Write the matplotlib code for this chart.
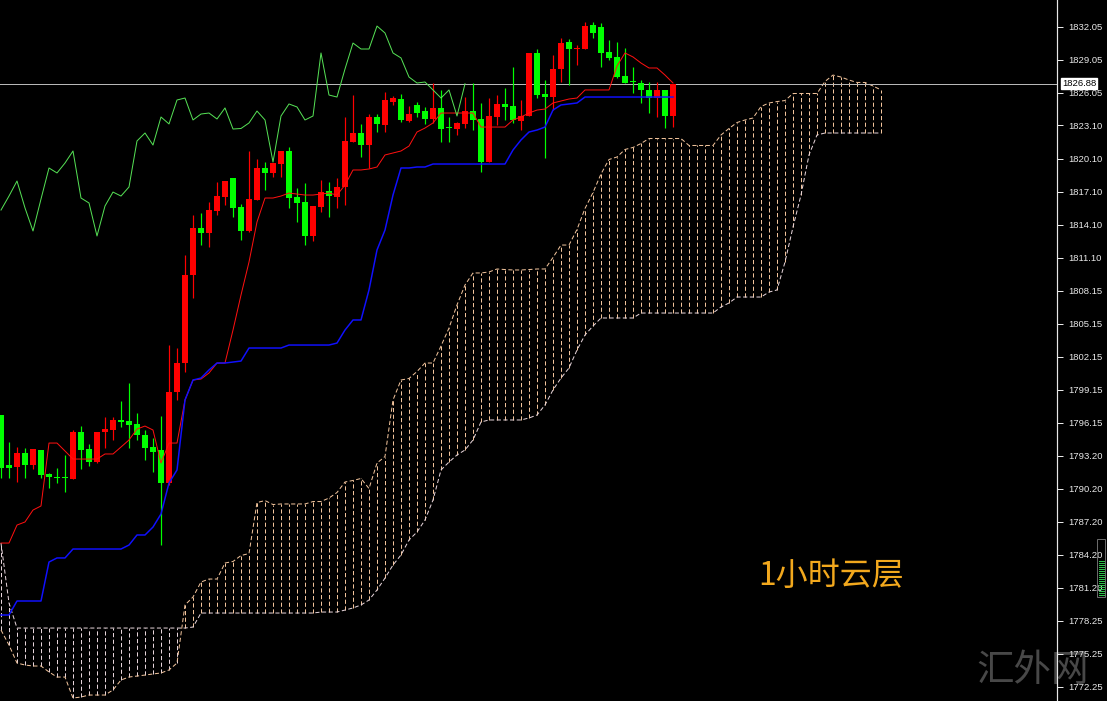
import numpy as np
import matplotlib
matplotlib.use('Agg')
import matplotlib.pyplot as plt
from matplotlib.patches import Rectangle
from matplotlib.lines import Line2D
import matplotlib.transforms as mtrans

plt.rcParams['lines.scale_dashes'] = False

# ---------------- data ----------------
opens = [1796.87, 1792.34, 1792.16, 1793.43, 1792.34, 1793.70, 1791.53, 1791.25, 1791.25, 1791.07,
         1795.33, 1793.79, 1792.61, 1795.33, 1795.51, 1796.42, 1796.33, 1796.06, 1795.06, 1793.97,
         1793.70, 1790.71, 1798.95, 1801.58, 1809.55, 1813.81, 1813.36, 1815.35, 1816.62, 1818.34,
         1815.72, 1813.54, 1816.35, 1819.25, 1818.80, 1819.61, 1820.79, 1816.62, 1816.17, 1813.09,
         1815.72, 1817.17, 1816.62, 1817.53, 1821.60, 1822.42, 1821.33, 1823.87, 1823.14, 1825.23,
         1825.50, 1823.51, 1824.96, 1824.41, 1823.69, 1824.69, 1822.87, 1822.78, 1823.24, 1824.41,
         1823.69, 1819.79, 1823.87, 1825.05, 1824.87, 1823.51, 1823.96, 1829.67, 1825.95, 1825.68,
         1828.22, 1830.66, 1829.99, 1830.03, 1832.20, 1832.02, 1829.76, 1829.31, 1827.58, 1827.09,
         1826.95, 1826.32, 1825.59, 1826.32, 1823.96]
highs = [1796.87, 1794.42, 1793.97, 1793.88, 1793.79, 1793.70, 1791.62, 1792.07, 1793.25, 1795.51,
         1795.87, 1794.24, 1795.33, 1796.69, 1796.69, 1798.14, 1799.77, 1797.05, 1795.51, 1794.79,
         1796.78, 1803.21, 1802.94, 1811.37, 1814.99, 1815.17, 1816.17, 1817.98, 1818.07, 1818.34,
         1815.99, 1820.79, 1820.06, 1819.79, 1819.70, 1820.79, 1821.15, 1817.44, 1817.89, 1815.81,
         1818.16, 1817.98, 1818.34, 1823.87, 1825.86, 1823.24, 1824.14, 1824.14, 1826.13, 1825.77,
         1825.95, 1824.87, 1825.23, 1824.78, 1826.95, 1826.32, 1823.87, 1823.42, 1825.68, 1826.95,
         1825.14, 1825.59, 1825.86, 1826.50, 1828.40, 1825.41, 1829.67, 1830.03, 1827.22, 1829.49,
         1831.03, 1830.94, 1830.39, 1832.48, 1832.48, 1832.39, 1830.85, 1830.66, 1830.12, 1828.40,
         1827.22, 1827.04, 1827.04, 1826.32, 1826.88]
lows = [1791.16, 1791.16, 1790.80, 1791.16, 1791.98, 1791.16, 1790.26, 1790.71, 1789.89, 1791.07,
        1791.98, 1792.25, 1792.52, 1793.88, 1794.61, 1795.78, 1793.88, 1794.61, 1792.79, 1791.71,
        1785.09, 1790.53, 1798.23, 1800.77, 1807.47, 1812.27, 1812.09, 1814.99, 1815.90, 1814.81,
        1812.73, 1813.45, 1816.35, 1817.26, 1818.43, 1818.43, 1815.63, 1814.36, 1812.27, 1812.64,
        1815.26, 1814.81, 1815.63, 1815.90, 1821.60, 1820.25, 1819.25, 1822.51, 1822.51, 1824.96,
        1823.42, 1823.42, 1823.87, 1823.24, 1823.33, 1821.60, 1821.60, 1822.24, 1822.87, 1822.69,
        1818.89, 1819.79, 1823.14, 1823.60, 1823.33, 1822.69, 1823.96, 1825.59, 1820.16, 1824.50,
        1827.04, 1826.77, 1828.58, 1830.03, 1831.03, 1828.40, 1829.03, 1827.40, 1826.95, 1826.04,
        1825.14, 1824.23, 1823.87, 1822.87, 1822.96]
closes = [1792.07, 1792.07, 1793.43, 1792.34, 1793.79, 1791.43, 1791.25, 1791.16, 1791.16, 1795.33,
          1793.70, 1792.61, 1795.33, 1795.60, 1796.42, 1796.24, 1795.96, 1795.06, 1793.88, 1793.52,
          1790.71, 1798.95, 1801.58, 1809.55, 1813.81, 1813.36, 1815.44, 1816.71, 1818.07, 1815.63,
          1813.54, 1816.44, 1819.25, 1818.80, 1819.70, 1820.79, 1816.53, 1816.08, 1813.09, 1815.81,
          1817.07, 1816.71, 1817.53, 1821.70, 1822.42, 1821.33, 1823.87, 1823.24, 1825.41, 1825.59,
          1823.60, 1824.14, 1824.23, 1823.69, 1824.69, 1822.78, 1822.83, 1823.33, 1824.41, 1823.60,
          1819.79, 1823.96, 1825.05, 1824.78, 1823.60, 1823.96, 1829.67, 1825.86, 1825.68, 1828.22,
          1830.57, 1830.03, 1830.03, 1832.11, 1831.48, 1829.67, 1829.22, 1827.49, 1826.95, 1827.04,
          1826.32, 1825.59, 1826.32, 1823.96, 1826.88]

tenkan = [1785.27, 1785.27, 1786.90, 1787.18, 1788.26, 1788.63, 1794.33, 1794.33, 1793.61, 1792.88,
          1792.88, 1792.88, 1792.88, 1793.34, 1793.34, 1793.97, 1794.61, 1795.60, 1795.87, 1795.51,
          1792.52, 1794.33, 1794.33, 1798.23, 1800.04, 1800.13, 1800.68, 1801.58, 1801.58, 1804.57,
          1807.74, 1810.73, 1814.36, 1816.53, 1816.53, 1816.71, 1816.98, 1816.89, 1816.80, 1816.80,
          1816.89, 1816.98, 1816.80, 1817.71, 1819.07, 1819.07, 1819.16, 1819.34, 1820.43, 1820.61,
          1820.79, 1821.24, 1822.51, 1822.87, 1823.33, 1824.23, 1824.23, 1824.23, 1824.23, 1824.23,
          1822.96, 1822.96, 1822.96, 1822.96, 1823.60, 1823.87, 1824.23, 1824.50, 1824.59, 1825.14,
          1825.32, 1825.50, 1825.59, 1826.32, 1826.32, 1826.32, 1826.32, 1828.49, 1829.67, 1829.31,
          1828.76, 1828.31, 1828.31, 1827.67, 1826.95]
kijun = [1778.75, 1778.75, 1780.02, 1780.02, 1780.02, 1780.02, 1783.55, 1783.92, 1783.92, 1784.73,
         1784.73, 1784.73, 1784.73, 1784.73, 1784.73, 1784.73, 1785.09, 1786.00, 1786.00, 1786.72,
         1787.90, 1790.71, 1791.89, 1798.23, 1800.04, 1800.22, 1800.95, 1801.58, 1801.58, 1801.67,
         1801.76, 1802.94, 1802.94, 1802.94, 1802.94, 1802.94, 1803.21, 1803.21, 1803.21, 1803.21,
         1803.21, 1803.21, 1803.39, 1804.57, 1805.48, 1805.48, 1808.20, 1811.82, 1813.63, 1816.80,
         1819.25, 1819.25, 1819.34, 1819.34, 1819.61, 1819.61, 1819.61, 1819.61, 1819.61, 1819.61,
         1819.61, 1819.61, 1819.61, 1819.61, 1820.88, 1821.79, 1822.51, 1822.69, 1822.96, 1824.50,
         1824.96, 1825.05, 1825.14, 1825.68, 1825.68, 1825.68, 1825.68, 1825.68, 1825.68, 1825.68,
         1825.68, 1825.68, 1825.68, 1825.68, 1825.68]

span_a = [1777.39, 1776.03, 1774.40, 1774.22, 1774.13, 1774.13, 1773.59, 1773.13, 1773.13, 1771.23,
          1771.32, 1771.50, 1771.50, 1771.50, 1771.96, 1772.86, 1773.13, 1773.22, 1773.31, 1773.41,
          1773.50, 1773.77, 1774.40, 1779.66, 1780.38, 1781.74, 1782.01, 1782.01, 1783.46, 1783.60,
          1784.14, 1784.32, 1788.94, 1789.12, 1788.76, 1788.81, 1788.81, 1788.81, 1788.81, 1789.03,
          1789.03, 1789.35, 1789.85, 1790.80, 1790.94, 1791.12, 1790.21, 1792.52, 1793.11, 1798.23,
          1800.04, 1800.18, 1800.81, 1801.58, 1801.58, 1803.12, 1804.75, 1806.84, 1808.65, 1809.74,
          1809.74, 1809.83, 1810.10, 1810.05, 1810.01, 1810.01, 1810.05, 1810.10, 1810.10, 1811.14,
          1812.27, 1812.27, 1813.68, 1815.58, 1817.03, 1818.71, 1820.02, 1820.25, 1820.93, 1821.11,
          1821.47, 1821.92, 1821.92, 1821.92, 1821.92, 1821.92, 1821.29, 1821.29, 1821.29, 1821.29,
          1822.24, 1822.83, 1823.37, 1823.60, 1823.78, 1824.82, 1825.14, 1825.27, 1825.36, 1826.00,
          1826.00, 1826.00, 1826.00, 1827.09, 1827.67, 1827.49, 1827.22, 1827.00, 1827.00, 1826.68,
          1826.32]
span_b = [1785.27, 1779.84, 1777.57, 1777.57, 1777.57, 1777.57, 1777.57, 1777.57, 1777.57, 1777.57,
          1777.57, 1777.57, 1777.57, 1777.57, 1777.57, 1777.57, 1777.57, 1777.57, 1777.57, 1777.57,
          1777.57, 1777.57, 1777.57, 1777.57, 1777.66, 1778.93, 1778.93, 1778.93, 1778.93, 1778.93,
          1778.93, 1778.93, 1778.93, 1778.93, 1778.93, 1778.93, 1778.93, 1778.93, 1778.93, 1778.93,
          1779.02, 1779.02, 1779.02, 1779.20, 1779.39, 1779.66, 1780.11, 1781.02, 1782.10, 1783.28,
          1784.19, 1785.55, 1786.27, 1787.36, 1789.17, 1791.89, 1792.61, 1793.25, 1793.70, 1794.61,
          1796.24, 1796.42, 1796.42, 1796.42, 1796.42, 1796.42, 1796.60, 1796.87, 1797.78, 1799.14,
          1800.22, 1801.13, 1802.76, 1804.12, 1804.93, 1805.66, 1805.66, 1805.66, 1805.66, 1805.66,
          1806.11, 1806.11, 1806.11, 1806.11, 1806.11, 1806.11, 1806.11, 1806.11, 1806.11, 1806.11,
          1806.66, 1807.02, 1807.56, 1807.56, 1807.56, 1807.56, 1808.01, 1808.20, 1810.73, 1813.90,
          1816.80, 1820.43, 1822.24, 1822.42, 1822.42, 1822.42, 1822.42, 1822.42, 1822.42, 1822.42,
          1822.42]

price_ticks = [1832.05, 1829.05, 1826.05, 1823.10, 1820.10, 1817.10, 1814.10, 1811.10, 1808.15,
               1805.15, 1802.15, 1799.15, 1796.15, 1793.20, 1790.20, 1787.20, 1784.20, 1781.20,
               1778.25, 1775.25, 1772.25]
last_price = 1826.88
chikou_shift = 26
caption = '1小时云层'
watermark = '汇外网'

# ---------------- figure ----------------
W, H = 1107, 701
PX = 0.72  # one pixel in points at 100 dpi
fig = plt.figure(figsize=(W / 100, H / 100), dpi=100, facecolor='black')
ax = fig.add_axes([0, 0, 1057 / W, 1])
ax.set_facecolor('black')
ax.set_xlim(-0.125, 132.0)
ax.set_ylim(1770.96, 1834.47)

# ---- Ichimoku cloud (dotted histogram + dotted span lines)
a = np.array(span_a)
b = np.array(span_b)
xc = np.arange(len(a))
up_col = '#F2C49C'
dn_col = '#E6D4DA'
dash = (0, (3.0, 1.8))
bull = a >= b
ax.vlines(xc[bull], np.minimum(a, b)[bull], np.maximum(a, b)[bull], colors=up_col,
          lw=PX, linestyles=[dash], zorder=1)
ax.vlines(xc[~bull], np.minimum(a, b)[~bull], np.maximum(a, b)[~bull], colors=dn_col,
          lw=PX, linestyles=[dash], zorder=1)
ax.plot(xc, a, color=up_col, lw=PX, ls=dash, zorder=1)
ax.plot(xc, b, color=dn_col, lw=PX, ls=dash, zorder=1)

# ---- candles
o = np.array(opens); h = np.array(highs); l = np.array(lows); c = np.array(closes)
x = np.arange(len(o))
cols = np.where(c >= o, '#FF0000', '#00FF00')
ax.vlines(x, l, h, colors=cols, lw=PX * 1.2, zorder=3)
body_lo = np.minimum(o, c)
body_h = np.maximum(np.abs(c - o), 0.1)
ax.bar(x, body_h, bottom=body_lo, width=0.7, color=cols, lw=0, zorder=3)

# ---- price line
ax.axhline(last_price, color='#B8B8B8', lw=PX, zorder=2)

# ---- Ichimoku lines
ax.plot(x, tenkan, color='#FF1010', lw=PX, zorder=4)
ax.plot(x, kijun, color='#1010FF', lw=PX * 1.5, zorder=4)
ax.plot(np.arange(len(c) - chikou_shift), c[chikou_shift:], color='#55E055', lw=PX, zorder=4)

# ---- axes styling
for s in ['top', 'left', 'bottom']:
    ax.spines[s].set_visible(False)
ax.spines['right'].set_color('#E8E8E8')
ax.spines['right'].set_linewidth(PX * 1.2)
ax.set_xticks([])
ax.yaxis.tick_right()
ax.set_yticks(price_ticks)
ax.set_yticklabels([f'{v:.2f}' for v in price_ticks])
ax.tick_params(axis='y', colors='#E8E8E8', length=4, width=PX, pad=4, labelsize=6.8)
for t in ax.get_yticklabels():
    t.set_family('Liberation Sans')

# ---- current price label
tr = mtrans.blended_transform_factory(fig.transFigure, ax.transData)
fig.text(1062 / W, last_price, f'{last_price:.2f}', transform=tr, color='black',
         fontsize=6.8, family='Liberation Sans', va='center', ha='left', zorder=10,
         bbox=dict(boxstyle='square,pad=0.12', fc='white', ec='white'))

# ---- caption and watermark (watermark sits behind the axis labels, as in the reference)
ax.text(758 / 1057, 1 - 576 / H, caption, transform=ax.transAxes, color='#F2A81D',
        fontsize=23, family=['Noto Sans CJK SC', 'DejaVu Sans'], va='center', ha='left', zorder=6)
ax.text(976 / 1057, 1 - 670 / H, watermark, transform=ax.transAxes, color='#484848', fontsize=27,
        family=['Noto Sans CJK SC', 'DejaVu Sans'], va='center', ha='left', zorder=0.5,
        clip_on=False)

# ---- small scroll widget at right edge
fig.patches.append(Rectangle((1097 / W, 1 - 597 / H), 8 / W, 58 / H, transform=fig.transFigure,
                             fill=False, ec='#6A6A6A', lw=PX))
for yy in range(561, 596, 2):
    fig.lines.append(Line2D([1099 / W, 1104 / W], [1 - yy / H, 1 - yy / H],
                            transform=fig.transFigure, color='#2EC24A', lw=PX))

fig.savefig('out.png', dpi=100, facecolor='black')
